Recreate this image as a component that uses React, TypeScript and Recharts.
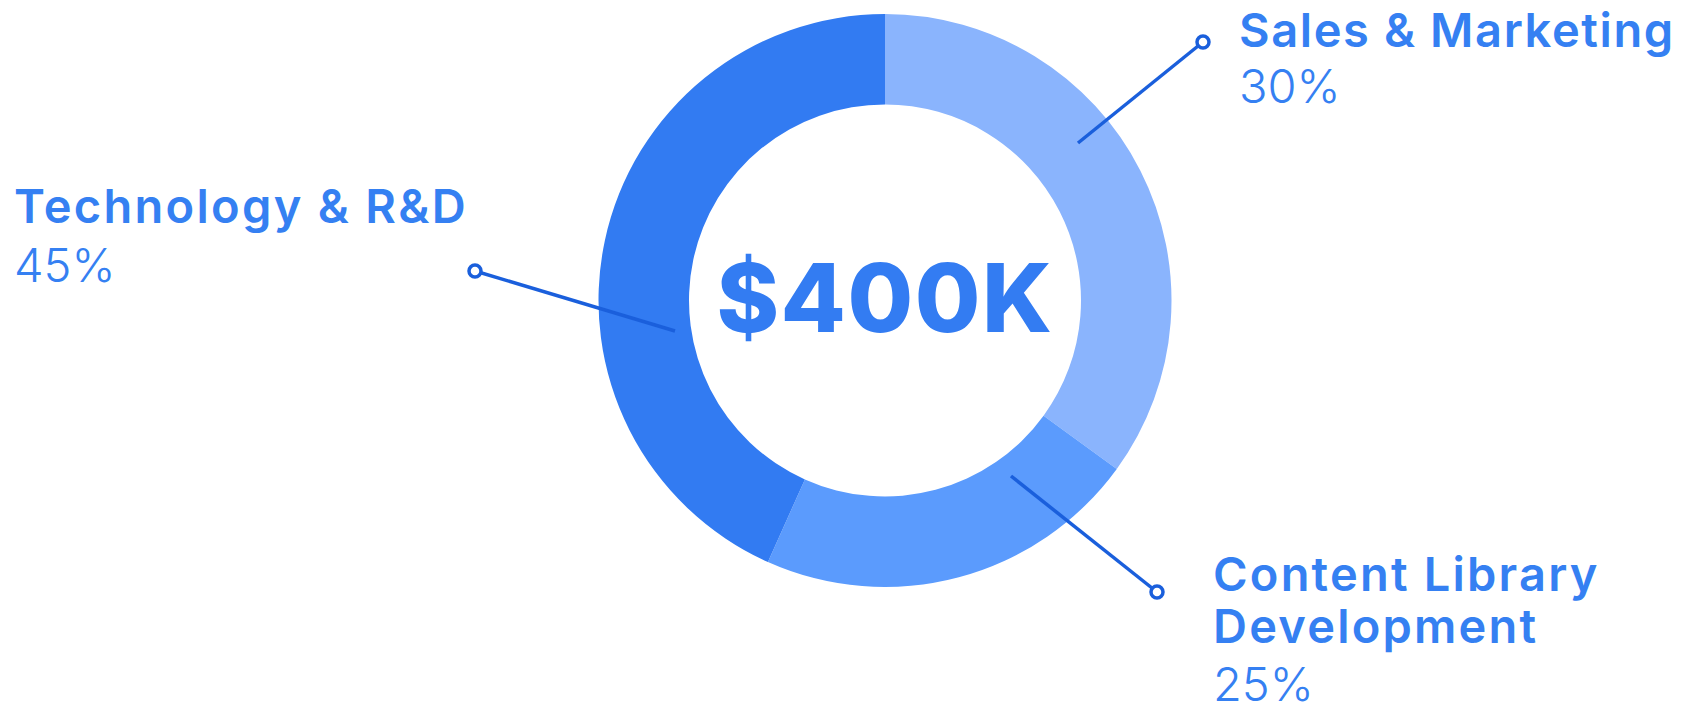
import React from 'react';
import { PieChart, Pie, Cell } from 'recharts';

// slice sizes as drawn (the printed percentages differ slightly from the geometry)
const categories = ['Sales & Marketing', 'Content Library Development', 'Technology & R&D'];
const shares = [35, 21.7, 43.3];
const percentLabels = ['30%', '25%', '45%'];
const titleLines = [['Sales & Marketing'], ['Content Library', 'Development'], ['Technology & R&D']];
const totalLabel = '$400K';

const COLORS = ['#8ab4fd', '#5b9bfd', '#327bf2'];
const TEXT = '#3580f2';
const LINE = '#1a5fdc';
const FONT = 'Inter, "Noto Sans", sans-serif';

// callout geometry, offsets from the pie centre
const calloutLayout = [
  { start: [193, -157.5], end: [318, -258.5], textX: 354, titleY: -254, pctY: -198, spacing: 1.6 },
  { start: [126, 175.5], end: [272, 291.5], textX: 328, titleY: 290, pctY: 400, spacing: 2.2 },
  { start: [-210, 30.5], end: [-410, -29.5], textX: -871, titleY: -77.5, pctY: -18.5, spacing: 2.3 },
];
const LINE_GAP = 52;

const data = categories.map((name, i) => ({ name, value: shares[i] }));

const renderCallout = (props: any) => {
  const { cx, cy, index } = props;
  const l = calloutLayout[index];
  const x1 = cx + l.start[0];
  const y1 = cy + l.start[1];
  const x2 = cx + l.end[0];
  const y2 = cy + l.end[1];
  return (
    <g key={`callout-${index}`}>
      <line x1={x1} y1={y1} x2={x2} y2={y2} stroke={LINE} strokeWidth={3.5} />
      <circle cx={x2} cy={y2} r={6} fill="#fff" stroke={LINE} strokeWidth={3.5} />
      {titleLines[index].map((t, j) => (
        <text key={j} x={cx + l.textX} y={cy + l.titleY + j * LINE_GAP} fill={TEXT}
          fontFamily={FONT} fontWeight={600} fontSize={47} letterSpacing={l.spacing}>
          {t}
        </text>
      ))}
      <text x={cx + l.textX} y={cy + l.pctY} fill={TEXT} fontFamily={FONT} fontWeight={300} fontSize={47}>
        {percentLabels[index]}
      </text>
      {index === 0 && (
        <text x={cx} y={cy + 31} textAnchor="middle" fill="#337cf2"
          fontFamily={FONT} fontWeight={800} fontSize={95} letterSpacing={1.5}>
          {totalLabel}
        </text>
      )}
    </g>
  );
};

export default function App() {
  return (
    <div style={{ position: 'absolute', left: 0, top: 0, width: 1691, height: 712, background: '#fff' }}>
      <PieChart width={1691} height={712} margin={{ top: 0, right: 0, bottom: 0, left: 0 }}>
        <Pie
          data={data}
          dataKey="value"
          cx={885}
          cy={300.5}
          innerRadius={196}
          outerRadius={286.5}
          startAngle={90}
          endAngle={-270}
          stroke="none"
          label={renderCallout}
          labelLine={false}
          isAnimationActive={false}
        >
          {data.map((d, i) => (
            <Cell key={d.name} fill={COLORS[i]} />
          ))}
        </Pie>
      </PieChart>
    </div>
  );
}
